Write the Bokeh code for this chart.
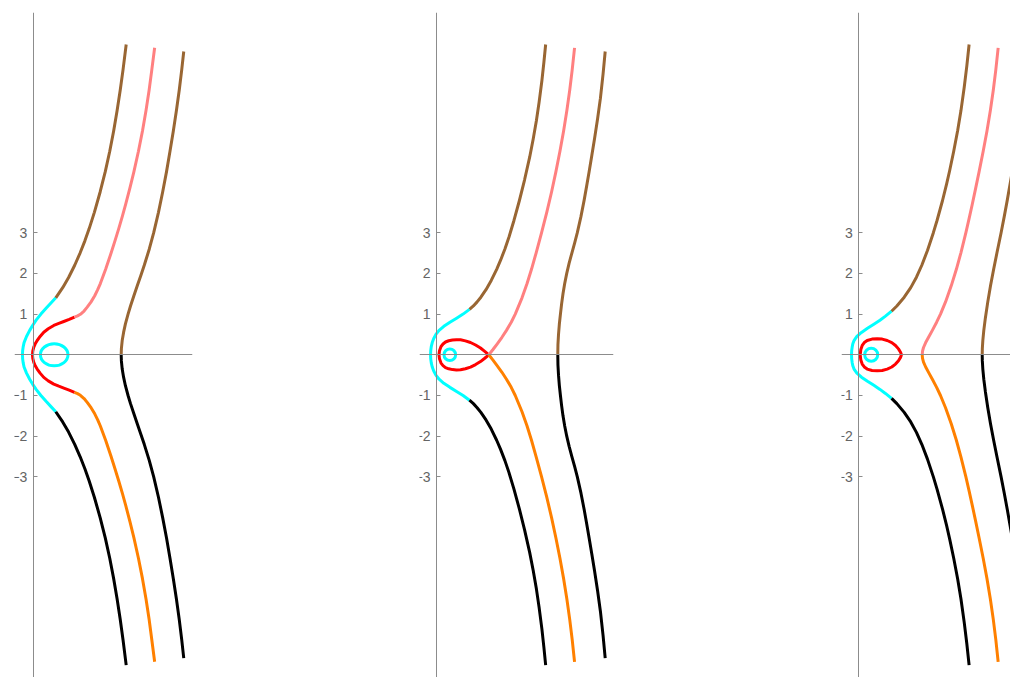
from bokeh.plotting import figure
from bokeh.layouts import row
from bokeh.models import Range1d, FixedTicker, CustomJSTickFormatter
from bokeh.embed import file_html
from bokeh.resources import INLINE

# ---------------- data (upper halves; curves are symmetric about the x-axis) ----------------
YTICKS = [-3, -2, -1, 1, 2, 3]
YTICK_LABELS = ["\u22123", "\u22122", "\u22121", "1", "2", "3"]

# Panel 1
P1_CYAN_X = [-0.263, -0.259, -0.245, -0.224, -0.164, -0.086, -0.015, 0.072, 0.190, 0.322, 0.442, 0.555]
P1_CYAN_Y = [0.00, 0.10, 0.20, 0.30, 0.45, 0.60, 0.72, 0.85, 1.00, 1.15, 1.28, 1.40]
P1_BROWN_L_X = [0.555, 0.725, 0.870, 1.020, 1.152, 1.270, 1.376, 1.503, 1.645, 1.771, 1.881, 1.977,
                2.062, 2.138, 2.207, 2.285]
P1_BROWN_L_Y = [1.40, 1.65, 1.90, 2.20, 2.50, 2.80, 3.10, 3.50, 4.00, 4.50, 5.00, 5.50,
                6.00, 6.50, 7.00, 7.624]
P1_RED_X = [-0.017, -0.010, 0.015, 0.050, 0.098, 0.170, 0.260, 0.370, 0.506, 0.630, 0.752, 0.885, 1.015]
P1_RED_Y = [0.000, 0.090, 0.187, 0.270, 0.351, 0.450, 0.555, 0.640, 0.720, 0.772, 0.818, 0.868, 0.924]
P1_PINK_X = [1.015, 1.090, 1.160, 1.250, 1.327, 1.422, 1.512, 1.585, 1.650, 1.780, 1.914, 2.009,
             2.102, 2.190, 2.273, 2.377, 2.475, 2.586, 2.685, 2.772, 2.848, 2.914, 2.984]
P1_PINK_Y = [0.924, 0.955, 0.995, 1.075, 1.170, 1.300, 1.450, 1.600, 1.750, 2.100, 2.500, 2.800,
             3.100, 3.400, 3.700, 4.100, 4.500, 5.000, 5.500, 6.000, 6.500, 7.000, 7.543]
P1_BROWN_R_X = [2.162, 2.167, 2.187, 2.221, 2.266, 2.331, 2.391, 2.474, 2.559, 2.645, 2.729, 2.853,
                2.961, 3.078, 3.181, 3.276, 3.361, 3.443, 3.519, 3.588, 3.649, 3.699]
P1_BROWN_R_Y = [0.00, 0.15, 0.35, 0.55, 0.76, 1.00, 1.20, 1.45, 1.70, 1.95, 2.20, 2.60,
                3.00, 3.50, 4.00, 4.50, 5.00, 5.50, 6.00, 6.50, 7.00, 7.452]
P1_LOOP = [0.516, 0.339, 0.270]  # centre x, half-width, half-height

# Panel 2
P2_CYAN_X = [-0.147, -0.142, -0.129, -0.105, -0.068, -0.015, 0.063, 0.180, 0.330, 0.493, 0.653, 0.810]
P2_CYAN_Y = [0.00, 0.10, 0.20, 0.30, 0.40, 0.50, 0.60, 0.70, 0.80, 0.90, 1.00, 1.115]
P2_BROWN_L_X = [0.810, 0.906, 0.998, 1.090, 1.216, 1.345, 1.478, 1.572, 1.681, 1.779, 1.903, 2.037,
                2.164, 2.289, 2.376, 2.455, 2.520, 2.590, 2.640, 2.682]
P2_BROWN_L_Y = [1.115, 1.20, 1.30, 1.415, 1.60, 1.826, 2.10, 2.318, 2.60, 2.889, 3.30, 3.791,
                4.30, 4.855, 5.30, 5.757, 6.20, 6.74, 7.20, 7.624]
P2_RED_X = [1.285, 1.185, 1.081, 0.960, 0.835, 0.710, 0.590, 0.490, 0.393, 0.300, 0.221, 0.160,
            0.111, 0.073, 0.061]
P2_RED_Y = [0.000, 0.085, 0.167, 0.240, 0.302, 0.342, 0.369, 0.372, 0.364, 0.345, 0.314, 0.265,
            0.204, 0.100, 0.000]
P2_PINK_X = [1.285, 1.388, 1.493, 1.608, 1.719, 1.836, 1.935, 2.101, 2.225, 2.334, 2.447, 2.582,
             2.709, 2.827, 2.934, 3.033, 3.123, 3.203, 3.273, 3.334, 3.392]
P2_PINK_Y = [0.00, 0.13, 0.27, 0.43, 0.60, 0.80, 1.00, 1.40, 1.75, 2.10, 2.50, 3.00,
             3.50, 4.00, 4.50, 5.00, 5.50, 6.00, 6.50, 7.00, 7.543]
P2_BROWN_R_X = [2.980, 2.984, 2.998, 3.018, 3.045, 3.074, 3.108, 3.150, 3.200, 3.259, 3.326, 3.395,
                3.460, 3.550, 3.628, 3.690, 3.750, 3.817, 3.882, 3.958, 4.027, 4.093, 4.145]
P2_BROWN_R_Y = [0.00, 0.25, 0.50, 0.75, 1.00, 1.25, 1.50, 1.75, 2.00, 2.25, 2.50, 2.75,
                3.00, 3.40, 3.80, 4.15, 4.50, 4.90, 5.30, 5.80, 6.30, 6.90, 7.452]
P2_LOOP = [0.327, 0.143, 0.143]

# Panel 3
P3_CYAN_X = [-0.179, -0.175, -0.161, -0.147, -0.117, -0.047, 0.066, 0.213, 0.370, 0.520, 0.655, 0.805]
P3_CYAN_Y = [0.00, 0.10, 0.20, 0.27, 0.35, 0.45, 0.55, 0.65, 0.75, 0.85, 0.95, 1.071]
P3_BROWN_L_X = [0.805, 0.935, 1.116, 1.276, 1.416, 1.548, 1.687, 1.832, 1.922, 2.057, 2.158, 2.233,
                2.332, 2.429, 2.510, 2.590, 2.654, 2.710]
P3_BROWN_L_Y = [1.071, 1.20, 1.415, 1.65, 1.907, 2.20, 2.563, 3.00, 3.30, 3.791, 4.20, 4.528,
                5.00, 5.511, 6.00, 6.575, 7.10, 7.624]
P3_RED_X = [1.049, 1.025, 0.975, 0.902, 0.810, 0.698, 0.575, 0.452, 0.325, 0.206, 0.135, 0.084,
            0.050, 0.034]
P3_RED_Y = [0.000, 0.064, 0.145, 0.229, 0.300, 0.351, 0.385, 0.393, 0.385, 0.351, 0.300, 0.229,
            0.130, 0.000]
P3_PINK_X = [1.558, 1.566, 1.590, 1.643, 1.724, 1.807, 1.912, 2.007, 2.131, 2.273, 2.397, 2.507,
             2.631, 2.711, 2.788, 2.873, 2.956, 3.056, 3.149, 3.232, 3.304, 3.366, 3.424]
P3_PINK_Y = [0.00, 0.09, 0.179, 0.30, 0.45, 0.60, 0.80, 1.00, 1.30, 1.70, 2.10, 2.50,
             3.00, 3.35, 3.70, 4.10, 4.50, 5.00, 5.50, 6.00, 6.50, 7.00, 7.543]
P3_BROWN_R_X = [3.032, 3.035, 3.047, 3.071, 3.109, 3.169, 3.237, 3.313, 3.393, 3.496, 3.574, 3.648,
                3.770, 3.902, 4.052, 4.202]
P3_BROWN_R_Y = [0.00, 0.15, 0.35, 0.60, 0.90, 1.30, 1.70, 2.10, 2.50, 3.00, 3.40, 3.80,
                4.50, 5.30, 6.30, 7.45]
P3_LOOP = [0.305, 0.160, 0.160]

# ---------------- styles ----------------
BROWN = "#996633"
PINK = "#ff8080"
ORANGE = "#ff8000"
CYAN = "#00ffff"
RED = "#ff0000"
BLACK = "#000000"
AXIS_COLOR = "#8c8c8c"
LABEL_COLOR = "#646464"
LW = 3
Y_RANGE = (-7.929, 8.41)


def neg(v):
    return [-a for a in v]


def through_axis(xs, ys):
    """open curve: mirrored lower half followed by upper half"""
    return xs[::-1] + xs[1:], neg(ys[::-1]) + ys[1:]


def closed_loop(xs, ys):
    return xs + xs[::-1][1:], ys + neg(ys[::-1][1:])


def make_panel(x_range, width, border_l, border_r, cyan, brown_l, red, red_closed, pink, brown_r, loop):
    p = figure(width=width, height=677, x_range=Range1d(*x_range), y_range=Range1d(*Y_RANGE),
               output_backend="svg", toolbar_location=None,
               min_border_left=border_l, min_border_right=border_r,
               min_border_top=12, min_border_bottom=0)
    p.grid.visible = False
    p.outline_line_color = None
    p.background_fill_color = "white"
    p.border_fill_color = "white"

    p.yaxis.fixed_location = 0
    p.xaxis.fixed_location = 0
    for ax in (p.xaxis, p.yaxis):
        ax.axis_line_color = AXIS_COLOR
        ax.axis_line_width = 1
        ax.major_tick_line_color = AXIS_COLOR
        ax.minor_tick_line_color = None
    p.xaxis.ticker = FixedTicker(ticks=[])
    p.xaxis.major_tick_in = 0
    p.xaxis.major_tick_out = 0
    p.xaxis.major_label_text_font_size = "0px"
    p.yaxis.ticker = FixedTicker(ticks=YTICKS)
    p.yaxis.formatter = CustomJSTickFormatter(
        args=dict(tvals=YTICKS, tlabels=YTICK_LABELS),
        code="const i = tvals.indexOf(Math.round(tick)); return i >= 0 ? tlabels[i] : '';")
    p.yaxis.major_tick_in = 4
    p.yaxis.major_tick_out = 0
    p.yaxis.major_label_standoff = 6
    p.yaxis.major_label_text_font = "Liberation Sans"
    p.yaxis.major_label_text_font_size = "14px"
    p.yaxis.major_label_text_color = LABEL_COLOR

    # cyan arc and loop
    cx, cy = through_axis(cyan[0], cyan[1])
    p.line(cx, cy, line_color=CYAN, line_width=LW, line_join="round")
    p.ellipse(x=[loop[0]], y=[0], width=[2 * loop[1]], height=[2 * loop[2]],
              fill_color=None, line_color=CYAN, line_width=LW)
    # red
    if red_closed:
        rx, ry = closed_loop(red[0], red[1])
    else:
        rx, ry = through_axis(red[0], red[1])
    p.line(rx, ry, line_color=RED, line_width=LW, line_join="round")
    # branches
    for (xs, ys), up_col, down_col in ((brown_l, BROWN, BLACK), (pink, PINK, ORANGE), (brown_r, BROWN, BLACK)):
        p.line(xs, ys, line_color=up_col, line_width=LW, line_join="round")
        p.line(xs, neg(ys), line_color=down_col, line_width=LW, line_join="round")
    return p


p1 = make_panel((-0.459, 3.914), 400, 14, 208,
                (P1_CYAN_X, P1_CYAN_Y), (P1_BROWN_L_X, P1_BROWN_L_Y), (P1_RED_X, P1_RED_Y), False,
                (P1_PINK_X, P1_PINK_Y), (P1_BROWN_R_X, P1_BROWN_R_Y), P1_LOOP)
p2 = make_panel((-0.418, 4.349), 413, 19, 200,
                (P2_CYAN_X, P2_CYAN_Y), (P2_BROWN_L_X, P2_BROWN_L_Y), (P2_RED_X, P2_RED_Y), True,
                (P2_PINK_X, P2_PINK_Y), (P2_BROWN_R_X, P2_BROWN_R_Y), P2_LOOP)
p3 = make_panel((-0.425, 3.727), 197, 28, 0,
                (P3_CYAN_X, P3_CYAN_Y), (P3_BROWN_L_X, P3_BROWN_L_Y), (P3_RED_X, P3_RED_Y), True,
                (P3_PINK_X, P3_PINK_Y), (P3_BROWN_R_X, P3_BROWN_R_Y), P3_LOOP)

layout = row(p1, p2, p3)
open("out.html", "w").write(file_html(layout, INLINE))
